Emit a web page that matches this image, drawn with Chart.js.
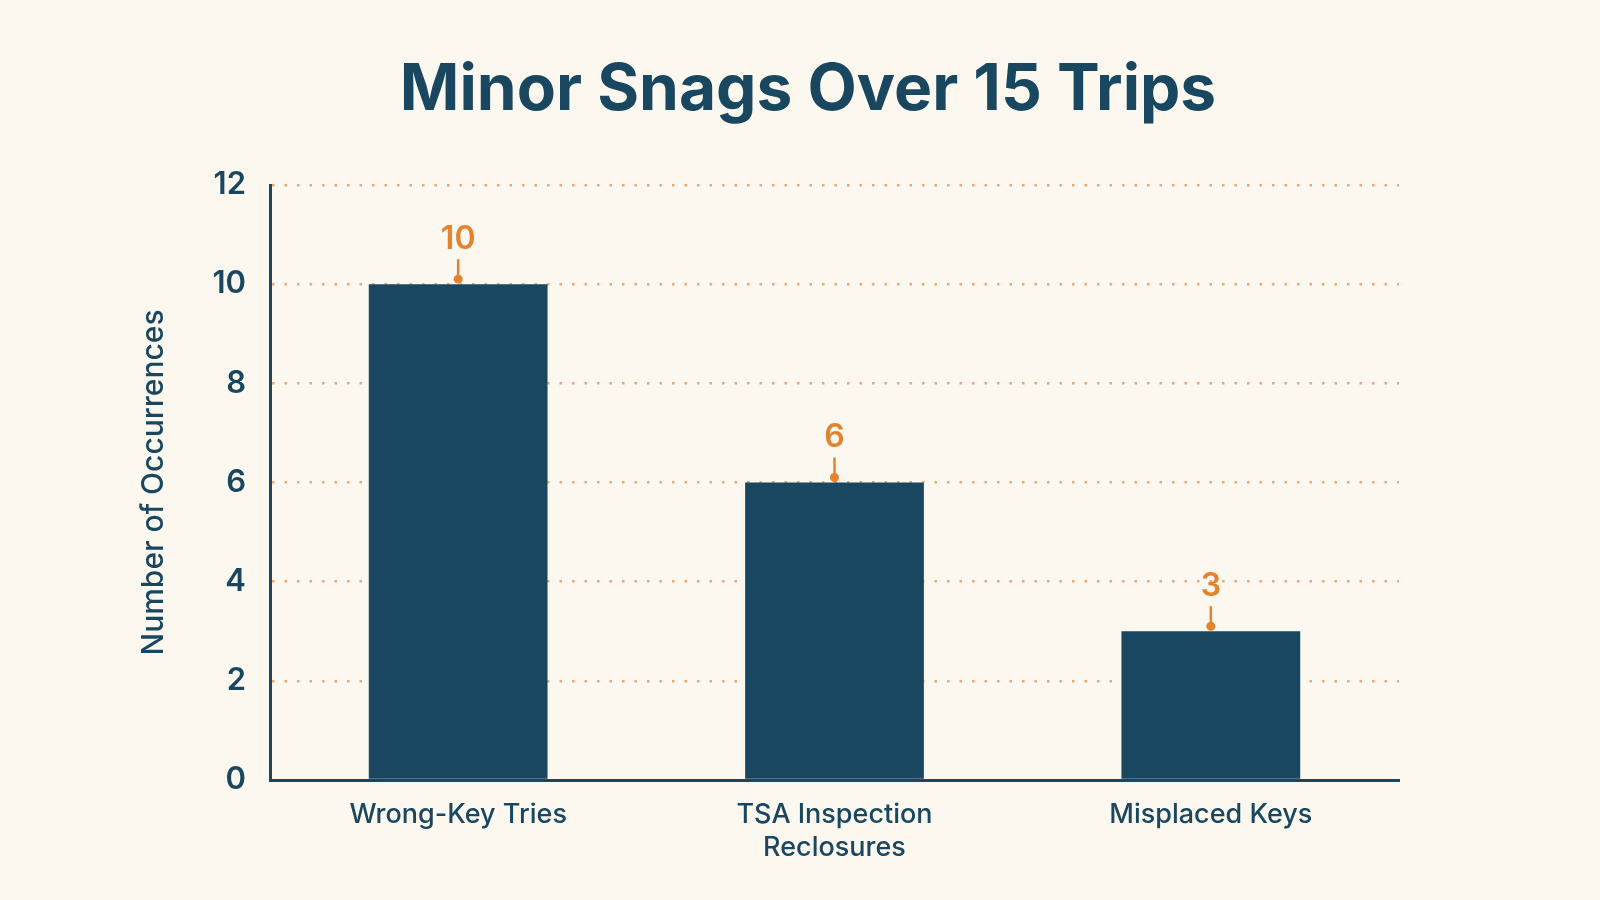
<!DOCTYPE html>
<html>
<head>
<meta charset="utf-8">
<title>Minor Snags Over 15 Trips</title>
<script src="https://cdn.jsdelivr.net/npm/chart.js@4.4.1/dist/chart.umd.min.js"></script>
<style>
  html, body { margin: 0; padding: 0; background: #fcf7ef; }
  #wrap { width: 1600px; height: 900px; }
</style>
</head>
<body>
<div id="wrap"><canvas id="snags" width="1600" height="900"></canvas></div>
<script>
// chart data
const chartTitle = 'Minor Snags Over 15 Trips';
const categories = ['Wrong-Key Tries', ['TSA Inspection', 'Reclosures'], 'Misplaced Keys'];
const occurrences = [10, 6, 3];
const yTicks = [0, 2, 4, 6, 8, 10, 12];

const navy = '#1a4760';
const orange = '#e5832d';
const cream = '#fcf7ef';

// cream background + the big title (drawn here so it can sit off-centre like the original)
const bgPlugin = {
  id: 'bg',
  beforeDraw(chart) {
    const ctx = chart.ctx;
    ctx.save();
    ctx.fillStyle = cream;
    ctx.fillRect(0, 0, chart.width, chart.height);
    ctx.fillStyle = navy;
    ctx.font = '700 64px Inter';
    ctx.textAlign = 'center';
    ctx.textBaseline = 'alphabetic';
    ctx.fillText(chartTitle, 808, 110);
    ctx.restore();
  }
};

// orange value label with a small stem and dot on top of each bar
const valueLabels = {
  id: 'valueLabels',
  afterDatasetsDraw(chart) {
    const ctx = chart.ctx;
    const meta = chart.getDatasetMeta(0);
    ctx.save();
    meta.data.forEach((bar, i) => {
      const x = bar.x, y = bar.y;
      ctx.strokeStyle = orange;
      ctx.lineWidth = 2.5;
      ctx.beginPath();
      ctx.moveTo(x, y - 5);
      ctx.lineTo(x, y - 25);
      ctx.stroke();
      ctx.fillStyle = orange;
      ctx.beginPath();
      ctx.arc(x, y - 5, 4.5, 0, Math.PI * 2);
      ctx.fill();
      ctx.font = '600 32px Inter';
      ctx.textAlign = 'center';
      ctx.textBaseline = 'middle';
      ctx.fillText(String(occurrences[i]), x, y - 45);
    });
    ctx.restore();
  }
};

const ctx = document.getElementById('snags').getContext('2d');
new Chart(ctx, {
  type: 'bar',
  data: {
    labels: categories,
    datasets: [{
      label: 'Occurrences',
      data: occurrences,
      backgroundColor: navy,
      borderWidth: 0,
      categoryPercentage: 1,
      barPercentage: 0.475
    }]
  },
  options: {
    responsive: false,
    animation: false,
    layout: { padding: { left: 136, right: 201, top: 185, bottom: 0 } },
    plugins: {
      legend: { display: false },
      tooltip: { enabled: false },
      title: { display: false }
    },
    scales: {
      x: {
        grid: { display: false },
        border: { display: true, color: navy, width: 3 },
        ticks: {
          color: navy,
          font: { family: 'Inter', size: 27, weight: '500' },
          padding: 11
        },
        afterFit(scale) { scale.height = 120; }
      },
      y: {
        min: 0,
        max: 12,
        afterBuildTicks(scale) { scale.ticks = yTicks.map(v => ({ value: v })); },
        grid: { color: '#eba877', lineWidth: 2.5, drawTicks: false },
        border: { display: true, color: navy, width: 3, dash: [2.5, 10] },
        ticks: {
          color: navy,
          font: { family: 'Inter', size: 31, weight: '600' },
          padding: 24
        },
        title: {
          display: true,
          text: 'Number of Occurrences',
          color: navy,
          font: { family: 'Inter', size: 30, weight: '500' },
          padding: 0
        },
        afterFit(scale) { scale.width = 134; }
      }
    }
  },
  plugins: [bgPlugin, valueLabels]
});
</script>
</body>
</html>
